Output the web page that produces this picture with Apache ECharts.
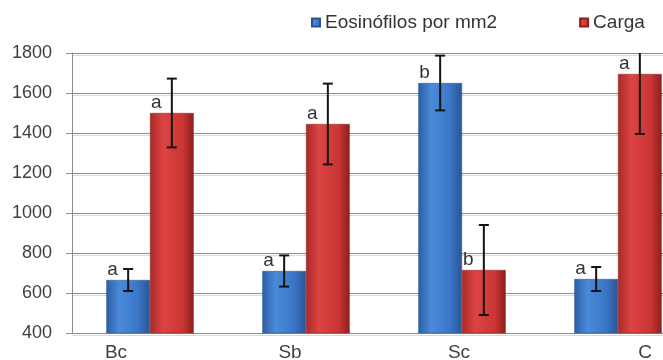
<!DOCTYPE html>
<html>
<head>
<meta charset="utf-8">
<script src="https://cdn.jsdelivr.net/npm/echarts@6/dist/echarts.min.js"></script>
<style>
  html, body { margin: 0; padding: 0; background: #fff; }
  #container { width: 663px; height: 360px; }
</style>
</head>
<body>
<div id="container"></div>
<script>
// data
var categories = ['Bc', 'Sb', 'Sc', 'C'];
var eosinofilos = [665, 710, 1650, 670];
var eosinofilosErr = [55, 78, 137, 60];
var eosinofilosLetters = ['a', 'a', 'b', 'a'];
var carga = [1500, 1445, 715, 1695];
var cargaErr = [172, 202, 225, 300];
var cargaLetters = ['a', 'a', 'b', 'a'];
var yTicks = [400, 600, 800, 1000, 1200, 1400, 1600, 1800];

var FONT = '"Liberation Sans", Arial, sans-serif';
var BAR_FRAC = 0.28;
// the category labels in the original sit off-centre
var labelShift = [-34, -16, -3, 27];

var blueFill = new echarts.graphic.LinearGradient(0, 0, 1, 0, [
    { offset: 0, color: '#2d5ea6' },
    { offset: 0.3, color: '#4a8ad9' },
    { offset: 0.7, color: '#3c78c9' },
    { offset: 1, color: '#2a5596' }
]);
var redFill = new echarts.graphic.LinearGradient(0, 0, 1, 0, [
    { offset: 0, color: '#a82a28' },
    { offset: 0.3, color: '#dc4442' },
    { offset: 0.75, color: '#c93634' },
    { offset: 1, color: '#8e1f1d' }
]);

function errorSeries(name, vals, errs, side) {
    return {
        type: 'custom',
        name: name + ' err',
        clip: true,
        z: 5,
        data: vals.map(function (v, i) { return [i, v, errs[i]]; }),
        renderItem: function (params, api) {
            var i = api.value(0), v = api.value(1), e = api.value(2);
            var band = api.size([1, 0])[0];
            var dx = side * band * BAR_FRAC / 2;
            var top = api.coord([i, v + e]);
            var bot = api.coord([i, v - e]);
            var x = top[0] + dx;
            var cap = 5;
            var st = { stroke: '#141414', lineWidth: 2 };
            return {
                type: 'group',
                children: [
                    { type: 'line', shape: { x1: x, y1: top[1], x2: x, y2: bot[1] }, style: st },
                    { type: 'line', shape: { x1: x - cap, y1: top[1], x2: x + cap, y2: top[1] }, style: st },
                    { type: 'line', shape: { x1: x - cap, y1: bot[1], x2: x + cap, y2: bot[1] }, style: st }
                ]
            };
        }
    };
}

function letterLabel(letters) {
    return {
        show: true,
        position: [1, -1],
        align: 'left',
        verticalAlign: 'bottom',
        fontFamily: FONT,
        fontSize: 19,
        color: '#333',
        formatter: function (p) { return letters[p.dataIndex]; }
    };
}

var rich = {};
labelShift.forEach(function (s, i) {
    rich['l' + i] = {
        fontFamily: FONT, fontSize: 19, color: '#404040',
        padding: s < 0 ? [0, -2 * s, 0, 0] : [0, 0, 0, 2 * s]
    };
});

var myChart = echarts.init(document.getElementById('container'));
var option = {
    animation: false,
    legend: {
        left: 306,
        top: 8,
        width: 600,
        icon: 'rect',
        itemWidth: 8,
        itemHeight: 8,
        itemGap: 82,
        textStyle: { fontFamily: FONT, fontSize: 19, color: '#333' },
        data: ['Eosinófilos por mm2', 'Carga']
    },
    grid: { left: 72, top: 53, width: 624, height: 280, outerBoundsMode: 'none', containLabel: false },
    xAxis: {
        type: 'category',
        data: categories,
        axisLine: { lineStyle: { color: '#8c8c8c', width: 1 } },
        axisTick: { show: false },
        axisLabel: {
            margin: 10,
            formatter: function (v, i) { return '{l' + i + '|' + v + '}'; },
            rich: rich
        }
    },
    yAxis: {
        type: 'value',
        min: yTicks[0],
        max: yTicks[yTicks.length - 1],
        interval: yTicks[1] - yTicks[0],
        axisLine: { show: true, lineStyle: { color: '#8c8c8c', width: 1 } },
        axisTick: { show: true, length: 6, lineStyle: { color: '#8c8c8c' } },
        axisLabel: {
            margin: 20, fontFamily: FONT, fontSize: 18, color: '#404040',
            formatter: function (v) { return String(v); }
        },
        splitLine: {
            lineStyle: { color: '#8c8c8c', width: 1, shadowColor: 'rgba(0,0,0,0.18)', shadowOffsetY: 2, shadowBlur: 1 }
        }
    },
    series: [
        {
            name: 'Eosinófilos por mm2',
            type: 'bar',
            data: eosinofilos,
            barWidth: (BAR_FRAC * 100) + '%',
            barGap: '0%',
            itemStyle: { color: blueFill, borderColor: '#2a5290', borderWidth: 0.5 },
            label: letterLabel(eosinofilosLetters)
        },
        {
            name: 'Carga',
            type: 'bar',
            data: carga,
            barWidth: (BAR_FRAC * 100) + '%',
            barGap: '0%',
            itemStyle: { color: redFill, borderColor: '#8a1f1d', borderWidth: 0.5 },
            label: letterLabel(cargaLetters)
        },
        errorSeries('Eosinófilos por mm2', eosinofilos, eosinofilosErr, -1),
        errorSeries('Carga', carga, cargaErr, 1)
    ]
};
myChart.setOption(option);
</script>
</body>
</html>
